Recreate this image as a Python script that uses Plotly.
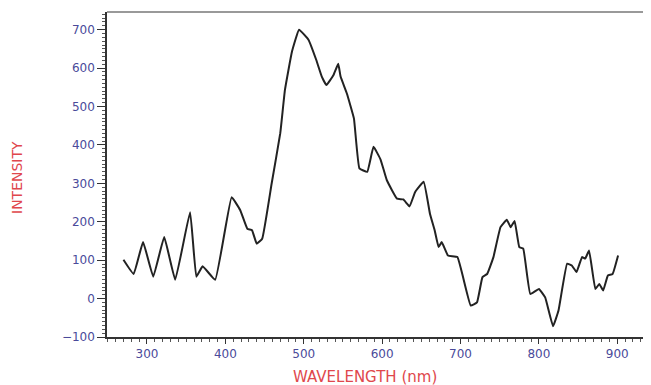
import plotly.graph_objects as go

wavelength = [270, 283, 295, 308, 322, 336, 355, 363, 371, 387, 408, 419, 428, 434, 440, 447,
              459, 470, 476, 485, 494, 506, 516, 523, 529, 538, 544, 547, 555, 564, 571, 581,
              589, 598, 606, 619, 627, 635, 642, 653, 661, 667, 672, 676, 684, 696, 713, 721,
              728, 734, 742, 751, 759, 764, 769, 775, 780, 789, 800, 808, 818, 825, 836, 842,
              848, 855, 859, 864, 872, 877, 882, 888, 894, 901]
intensity = [101, 64, 147, 57, 160, 49, 225, 57, 84, 49, 264, 230, 182, 178, 143, 156,
             299, 430, 543, 643, 700, 674, 621, 578, 556, 582, 611, 578, 534, 469, 339, 330,
             395, 362, 308, 260, 258, 240, 277, 304, 221, 178, 134, 147, 112, 108, -18, -10,
             56, 64, 108, 186, 205, 186, 202, 134, 130, 12, 25, 3, -72, -31, 91, 86,
             69, 108, 104, 125, 25, 38, 21, 60, 64, 112]

x_ticks = [300, 400, 500, 600, 700, 800, 900]
y_ticks = [-100, 0, 100, 200, 300, 400, 500, 600, 700]

fig = go.Figure()
fig.add_trace(go.Scatter(x=wavelength, y=intensity, mode="lines",
                         line=dict(color="#222222", width=2, shape="spline", smoothing=0.3),
                         showlegend=False))

tickfont = dict(family="DejaVu Sans, sans-serif", size=12, color="#4a4a9a")

# page body has an 8px default margin; figure is sized/margined to compensate
fig.update_layout(
    width=643, height=377,
    margin=dict(l=99, r=0, t=4, b=48),
    paper_bgcolor="white", plot_bgcolor="white",
    xaxis=dict(range=[249, 943], tickvals=x_ticks, ticks="outside", ticklen=5, tickcolor="#333",
               showline=True, linecolor="#333", linewidth=1.5, mirror=False,
               showgrid=False, zeroline=False, tickfont=tickfont,
               minor=dict(dtick=10, tick0=0, ticks="outside", ticklen=3, tickcolor="#555")),
    yaxis=dict(range=[-100, 746], tickvals=y_ticks, ticks="outside", ticklen=8, tickcolor="#333",
               showline=True, linecolor="#333", linewidth=1.5,
               showgrid=False, zeroline=False, tickfont=tickfont,
               minor=dict(dtick=10, tick0=0, ticks="outside", ticklen=3, tickcolor="#555")),
    annotations=[
        dict(text="WAVELENGTH (nm)", xref="paper", yref="paper", x=0.474, y=-0.123,
             xanchor="center", yanchor="middle", showarrow=False,
             font=dict(family="DejaVu Sans, sans-serif", size=15, color="#e0474c")),
        dict(text="INTENSITY", xref="paper", yref="paper", x=-0.165, y=0.49,
             xanchor="center", yanchor="middle", showarrow=False, textangle=-90,
             font=dict(family="DejaVu Sans, sans-serif", size=14, color="#e0474c")),
    ],
    shapes=[dict(type="line", xref="paper", yref="paper", x0=0, x1=1, y0=1, y1=1,
                 line=dict(color="#999999", width=2))],
)

fig.write_html("out.html")
